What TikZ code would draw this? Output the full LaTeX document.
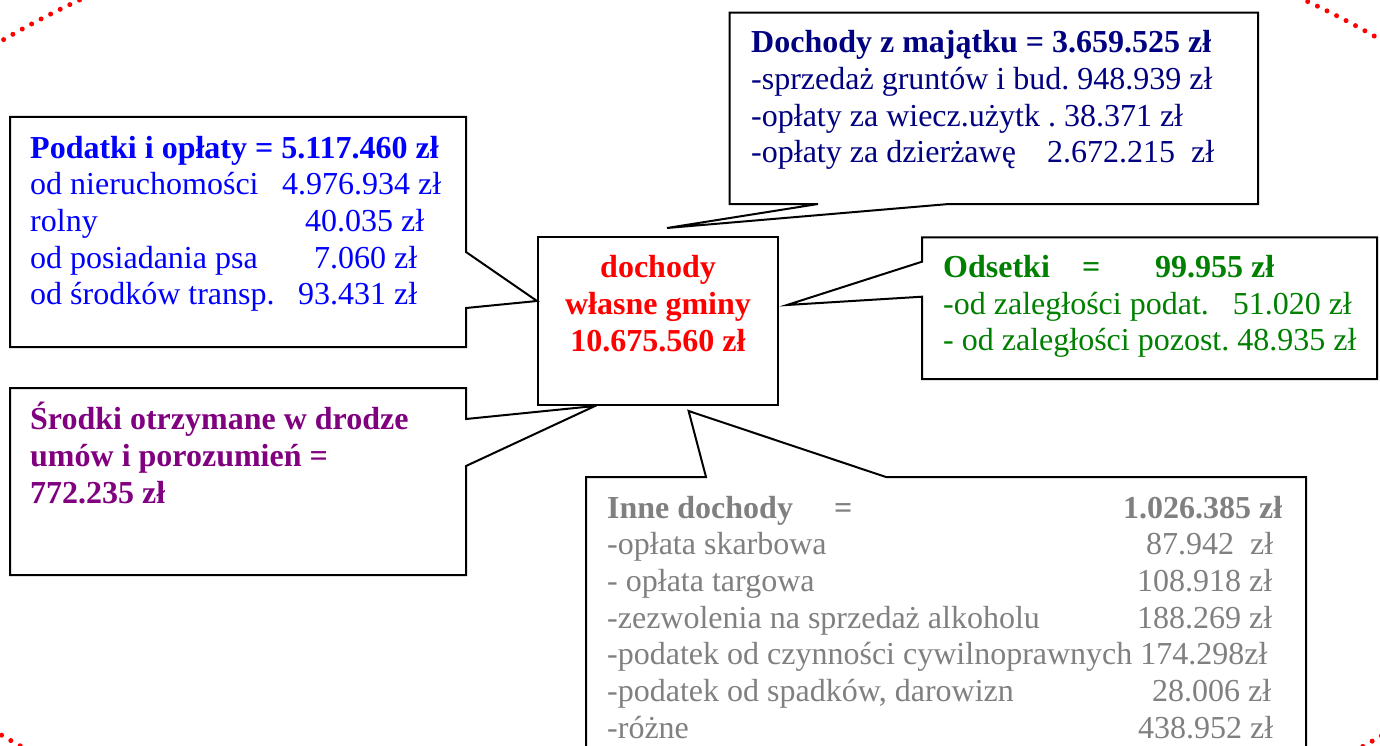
\documentclass[tikz,border=0pt]{standalone}
\usepackage{fontspec}
\setmainfont{Liberation Serif}
\usepackage{tikz}

\definecolor{granat}{RGB}{0,0,128}
\definecolor{zielony}{RGB}{0,128,0}
\definecolor{fiolet}{RGB}{128,0,128}
\definecolor{szary}{RGB}{128,128,128}

% label in a box of fixed width, then the amount
\newcommand{\wiersz}[3]{\makebox[#1][l]{#2}#3}

\frenchspacing

\begin{document}
\begin{tikzpicture}[x=1pt, y=-1pt,
	ramka/.style={draw=black, line width=2pt, line join=miter, fill=white},
	tekst/.style={anchor=north west, inner sep=0pt, font=\fontsize{32}{36.7}\selectfont},
	kropki/.style={red, line width=5pt, line cap=round, dash pattern=on 0pt off 10.7pt}]
	\useasboundingbox (0,0) rectangle (1380,746);

	% Red dotted frame
	\begin{scope}
		\clip (0,0) rectangle (1380,746);
		\draw[kropki] (692,388) ellipse [x radius=941, y radius=511];
	\end{scope}

	% Central box
	\node[draw, line width=2pt, minimum width=240pt, minimum height=168pt, inner sep=0pt] (glowny) at (658,321) {};
	\node[tekst, anchor=north, red, font=\fontsize{32}{36.7}\selectfont\bfseries] (glownyTxt) at (658,252)
		{\begin{tabular}{@{}c@{}}dochody\\własne gminy\\10.675.560 zł\end{tabular}};

	% Tips of the callouts
	\coordinate (tipPod) at ([yshift=20pt]glowny.west);
	\coordinate (tipDoch) at ([xshift=9pt, yshift=8pt]glowny.north);
	\coordinate (tipOds) at ([xshift=8pt, yshift=16pt]glowny.east);
	\coordinate (tipSr) at ([xshift=58pt]glowny.south west);
	\coordinate (tipInne) at ([xshift=30.6pt, yshift=-5pt]glowny.south);

	% Podatki
	\draw[ramka] (10,117) -- (466,117) -- (466,252) -- (tipPod) -- (466,308) -- (466,347) -- (10,347) -- cycle;
	\node[tekst, blue] (podatki) at (30,132.3) {\begin{tabular}{@{}l@{}}
		\textbf{Podatki i opłaty = 5.117.460 zł}\\
		\wiersz{252pt}{od nieruchomości}{4.976.934 zł}\\
		\wiersz{275pt}{rolny}{40.035 zł}\\
		\wiersz{284pt}{od posiadania psa}{7.060 zł}\\
		\wiersz{268pt}{od środków transp.}{93.431 zł}
	\end{tabular}};

	% Dochody z majatku
	\draw[ramka] (729.5,12.7) -- (1258,12.7) -- (1258,204) -- (949,204) -- (tipDoch) -- (818,204) -- (729.5,204) -- cycle;
	\node[tekst, granat] (majatek) at (751,27) {\begin{tabular}{@{}l@{}}
		\textbf{Dochody z majątku = 3.659.525 zł}\\
		-sprzedaż gruntów i bud. 948.939 zł\\
		-opłaty za wiecz.użytk . 38.371 zł\\
		\wiersz{296pt}{-opłaty za dzierżawę}{2.672.215~~zł}
	\end{tabular}};

	% Odsetki
	\draw[ramka] (922,237.3) -- (1377,237.3) -- (1377,379) -- (922,379) -- (922,296.7) -- (tipOds) -- (922,261.7) -- cycle;
	\node[tekst, zielony] (odsetki) at (943,251.6) {\begin{tabular}{@{}l@{}}
		\textbf{\wiersz{139pt}{Odsetki}{\wiersz{73pt}{=}{99.955 zł}}}\\
		\wiersz{289.5pt}{-od zaległości podat.}{51.020 zł}\\
		- od zaległości pozost. 48.935 zł
	\end{tabular}};

	% Srodki
	\draw[ramka] (10,388) -- (466,388) -- (466,419) -- (tipSr) -- (466,466) -- (466,575) -- (10,575) -- cycle;
	\node[tekst, fiolet, font=\fontsize{32}{36.7}\selectfont\bfseries] (srodki) at (30,402.3) {\begin{tabular}{@{}l@{}}
		Środki otrzymane w drodze\\
		umów i porozumień =\\
		772.235 zł
	\end{tabular}};

	% Inne dochody
	\draw[ramka] (586,477) -- (706,477) -- (tipInne) -- (886,477) -- (1306,477) -- (1306,760) -- (586,760) -- cycle;
	\node[tekst, szary] (inne) at (607,492.3) {\begin{tabular}{@{}l@{}}
		\textbf{\wiersz{227pt}{Inne dochody}{\wiersz{289pt}{=}{1.026.385 zł}}}\\
		\wiersz{539pt}{-opłata skarbowa}{87.942~~zł}\\
		\wiersz{530pt}{- opłata targowa}{108.918 zł}\\
		\wiersz{530pt}{-zezwolenia na sprzedaż alkoholu}{188.269 zł}\\
		-podatek od czynności cywilnoprawnych 174.298zł\\
		\wiersz{545pt}{-podatek od spadków, darowizn}{28.006 zł}\\
		\wiersz{531pt}{-różne}{438.952 zł}
	\end{tabular}};

\end{tikzpicture}
\end{document}
